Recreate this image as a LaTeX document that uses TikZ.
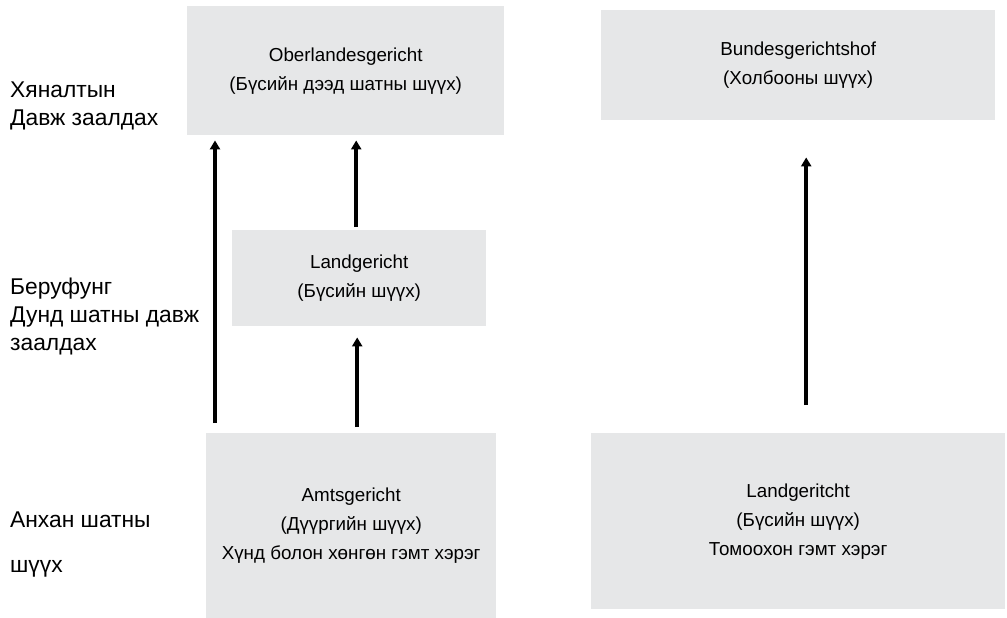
\documentclass[tikz,border=0pt]{standalone}
\usepackage{fontspec}
\setmainfont{Liberation Sans}
\usetikzlibrary{arrows.meta}
\definecolor{courtgray}{RGB}{230,231,232}
\tikzset{
  court/.style={fill=courtgray, inner sep=0pt, anchor=north west, align=center,
    font=\fontsize{18.8}{29}\selectfont},
  level/.style={inner sep=0pt, anchor=base west, align=left,
    font=\fontsize{22.8}{28}\selectfont},
  appeal/.style={line width=4pt, -{Triangle[width=10pt,length=9pt]}}
}
\begin{document}
\begin{tikzpicture}[x=1pt, y=-1pt]
\useasboundingbox (0,0) rectangle (1007,618);

\node[court, minimum width=317pt, minimum height=129pt] (OLG) at (187, 6) {Oberlandesgericht\\(Бүсийн дээд шатны шүүх)};
\node[court, minimum width=394pt, minimum height=110pt] (BGH) at (601, 10) {Bundesgerichtshof\\(Холбооны шүүх)};
\node[court, minimum width=254pt, minimum height=96pt] (LG) at (232, 230) {Landgericht\\(Бүсийн шүүх)};
\node[court, minimum width=290pt, minimum height=185pt] (AG) at (206, 433) {Amtsgericht\\(Дүүргийн шүүх)\\Хүнд болон хөнгөн гэмт хэрэг};
\node[court, minimum width=414pt, minimum height=176pt] (LGr) at (591, 433) {Landgeritcht\\(Бүсийн шүүх)\\Томоохон гэмт хэрэг};

\node[level] (Rev) at (10, 125) {Хяналтын\\Давж заалдах};
\node[level] (Ber) at (10, 350) {Беруфунг\\Дунд шатны давж\\заалдах};
\node[level, font=\fontsize{22.8}{45}\selectfont] (Anh) at (10, 572) {Анхан шатны\\шүүх};

\draw[appeal, shorten <=10pt, shorten >=5pt] ([xshift=9pt]AG.north west) -- ([xshift=9pt]AG.north west |- OLG.south);
\draw[appeal, shorten <=6pt, shorten >=11pt] ([xshift=6pt]AG.north) -- ([xshift=6pt]AG.north |- LG.south);
\draw[appeal, shorten <=3pt, shorten >=5pt] ([xshift=-3pt]LG.north) -- ([xshift=-3pt]LG.north |- OLG.south);
\draw[appeal, shorten <=28pt, shorten >=37pt] ([xshift=8pt]LGr.north) -- ([xshift=8pt]LGr.north |- BGH.south);
\end{tikzpicture}
\end{document}
